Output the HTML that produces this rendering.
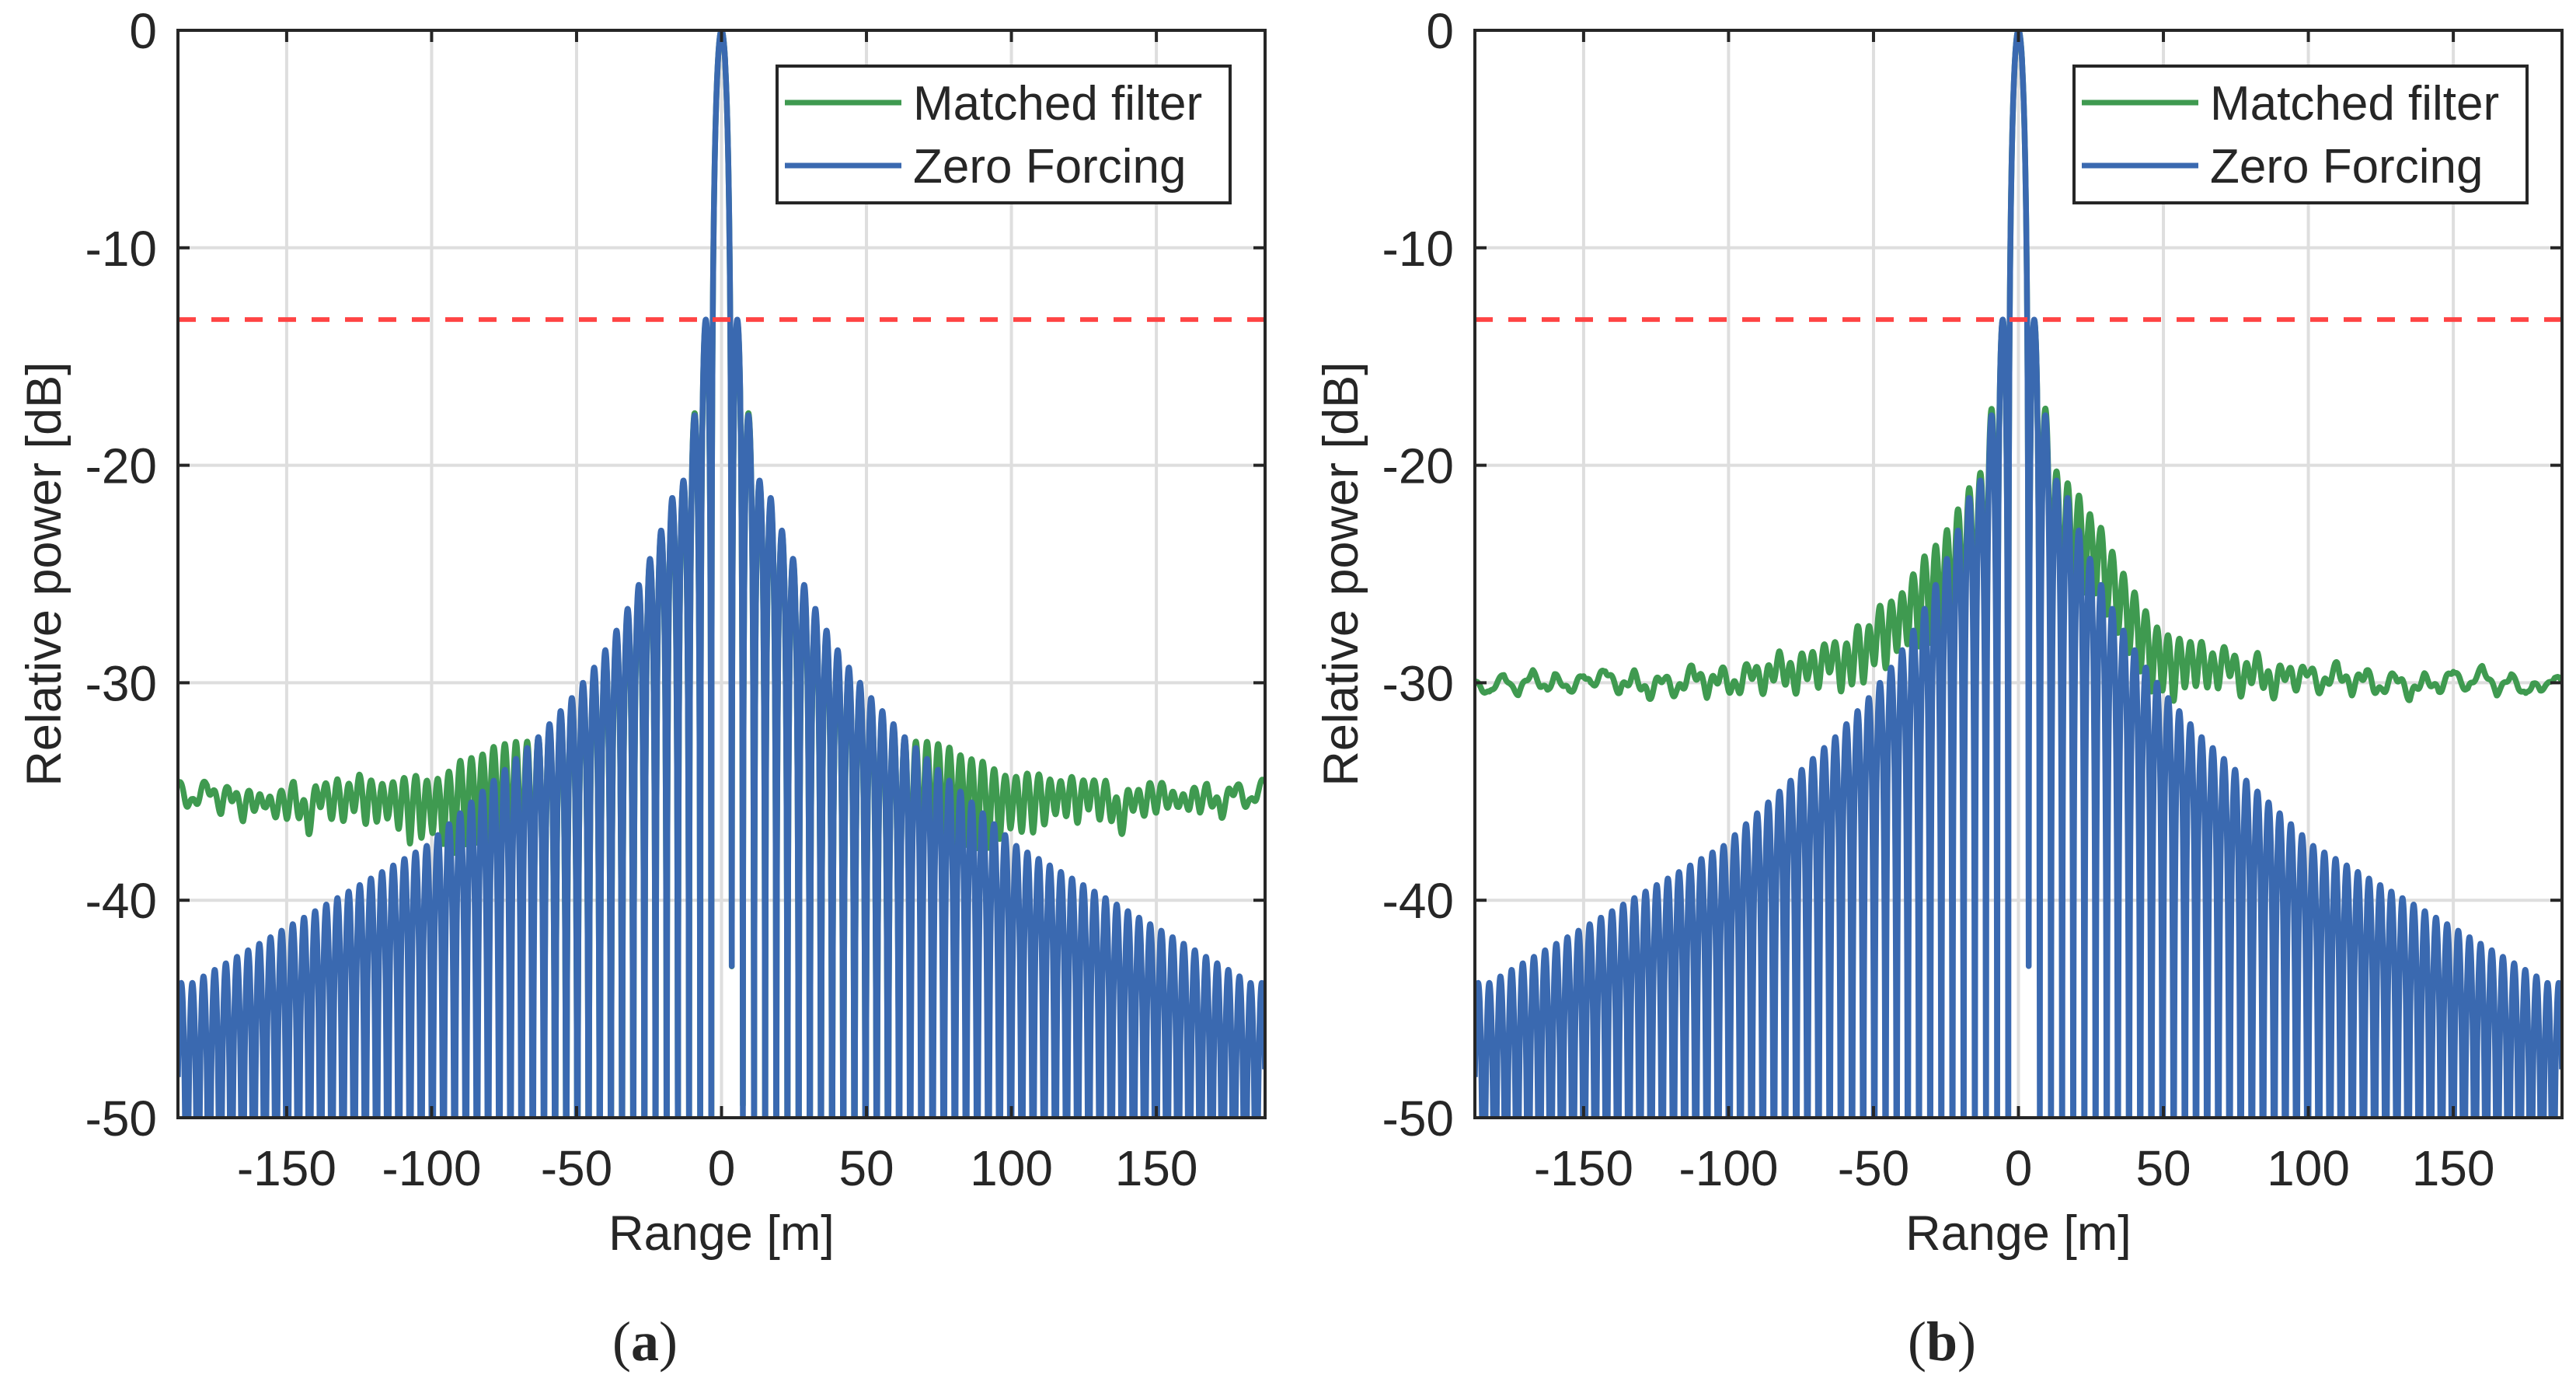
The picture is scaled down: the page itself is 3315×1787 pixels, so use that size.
<!DOCTYPE html>
<html><head><meta charset="utf-8"><style>
html,body{margin:0;padding:0;background:#fff;}
svg{display:block;}
text{font-family:"Liberation Sans",sans-serif;fill:#262626;}
</style></head><body>
<svg id="fig" width="3315" height="1787" viewBox="0 0 3315 1787" xmlns="http://www.w3.org/2000/svg"></svg>
<script>
// ---- data ----
const xTicks = [-150,-100,-50,0,50,100,150];
const yTicks = [0,-10,-20,-30,-40,-50];
const sidelobeLevel = -13.3;
// zero forcing sidelobe peak levels (dB), lobe k = 1..47 on each side
const zfPeaks = [-13.3,-17.7,-20.7,-21.5,-23.0,-24.3,-25.5,-26.6,-27.6,-28.5,-29.3,-30.0,-30.7,-31.3,-31.9,-32.5,-33.0,-33.5,-34.0,-34.5,-35.0,-35.5,-36.0,-36.5,-37.0,-37.5,-37.8,-38.1,-38.4,-38.7,-39.0,-39.3,-39.6,-39.9,-40.2,-40.5,-40.8,-41.1,-41.4,-41.7,-42.0,-42.3,-42.6,-42.9,-43.2,-43.5,-43.8];
// matched filter sidelobe peak levels (dB)
const mfPeaks = [-13.4,-17.6,-20.8,-21.7,-23.1,-24.4,-25.7,-26.8,-27.8,-28.7,-29.5,-30.2,-30.9,-31.5,-32.1,-32.7,-33.2,-33.7,-34.2,-34.7,-35.2,-35.7,-36.2,-36.7,-37.2,-37.7,-38.0,-38.3,-38.6,-38.9,-39.2,-39.5,-39.8,-40.1,-40.4,-40.7,-41.0,-41.3,-41.6,-41.9,-42.2,-42.5,-42.8,-43.1,-43.4,-43.7,-44.0];
// matched filter noise floor, range -187.5..187.5 step 2.5 m
const mfFloorA = [-34.8,-35.6,-36.0,-35.4,-34.9,-35.6,-36.1,-35.2,-35.8,-36.4,-35.6,-36.2,-35.7,-36.5,-35.9,-36.3,-35.5,-36.6,-37.1,-36.0,-35.6,-36.4,-35.8,-36.5,-36.0,-35.7,-36.6,-36.1,-36.8,-36.2,-37.0,-36.4,-37.4,-36.5,-37.6,-36.8,-37.8,-37.2,-38.0,-37.0,-37.6,-37.2,-37.8,-37.4,-38.0,-38.4,-39,-40,-42,-44,-47,-50,
-60,-60,-60,-60,-60,-60,-60,-60,-60,-60,-60,-60,-60,-60,-60,-60,-60,-60,-60,-60,-60,-60,-60,-60,-60,-60,-60,-60,-60,-60,-60,-60,-60,-60,-60,-60,-60,-60,-60,-60,-60,-60,-60,-60,-60,-60,-60,
-50,-47,-44,-42,-40,-39,-38.4,-38.0,-37.6,-37.9,-37.3,-37.8,-37.1,-37.7,-37.0,-37.5,-36.6,-37.2,-36.4,-36.9,-36.2,-36.8,-36.0,-36.6,-35.8,-36.5,-36.1,-35.7,-36.4,-35.9,-36.5,-37.2,-36.3,-35.8,-36.4,-35.6,-36.0,-35.4,-36.1,-35.7,-36.2,-35.5,-36.0,-35.3,-35.9,-36.3,-35.5,-35.0,-35.6,-36.0,-35.2,-34.8];
const mfFloorB = [-30.0,-30.4,-30.6,-30.1,-29.7,-30.3,-30.6,-30.0,-29.6,-30.2,-30.5,-29.8,-30.1,-30.6,-30.2,-29.7,-30.3,-30.0,-29.5,-30.1,-30.6,-30.2,-29.8,-30.4,-30.9,-30.3,-29.9,-30.5,-30.8,-30.2,-29.6,-30.1,-30.7,-30.3,-29.8,-30.4,-30.9,-30.2,-29.7,-30.3,-30.6,-30.0,-29.6,-30.2,-30.7,-30.1,-29.8,-30.4,-30.0,-29.5,-30.2,-30.6,
-30.1,-29.4,-30.4,-29.2,-28.8,-29.6,-28.4,-29.1,-27.9,-28.6,-27.6,-28.3,-27.8,-28.6,-28.0,-28.9,-29.5,-30,-30.5,-31,-31,-31,-31,-31,-31,-31,-31,-30.5,-30,-29,-28,-26.5,-25.8,-26.4,-25.6,-26.8,-27.2,-27.9,-28.5,-29.0,-29.6,-30.2,-30.8,-30.3,-31.0,-30.6,-30.2,
-30.4,-29.9,-30.2,-30.6,-30.0,-29.6,-30.3,-30.8,-30.1,-29.7,-30.4,-30.9,-30.2,-29.8,-30.5,-30.1,-29.6,-30.3,-30.7,-30.0,-29.5,-30.2,-30.6,-30.1,-29.7,-30.4,-30.8,-30.2,-29.8,-30.3,-30.9,-30.4,-29.9,-30.2,-30.6,-30.0,-29.5,-30.1,-30.5,-29.9,-29.4,-30.0,-30.6,-30.2,-29.7,-30.3,-30.7,-30.1,-30.4,-30.2,-29.8,-30.0];
const floorStart = -187.5, floorStep = 2.5;
const mainNull = 3.5, lobeSpacing = 3.85;
const xMin = -187.5, xMax = 187.5, yMin = -50, yMax = 0;

// ---- layout ----
const NS = "http://www.w3.org/2000/svg";
const svg = document.getElementById('fig');
const PW = 1399, PT = 39, PH = 1399;
const panels = [{left:229, floor:mfFloorA, label:'(a)', key:'a'},{left:1898, floor:mfFloorB, label:'(b)', key:'b'}];

function el(tag, attrs, parent){const e=document.createElementNS(NS,tag);for(const k in attrs)e.setAttribute(k,attrs[k]);(parent||svg).appendChild(e);return e;}

function lobeDb(peaks, x){
  const a=Math.abs(x);
  if(a<mainNull){const c=Math.cos(Math.PI/2*a/mainNull);return 20*Math.log10(Math.max(c,1e-4));}
  const u=(a-mainNull)/lobeSpacing;const j=Math.floor(u);const t=u-j;
  const pk=peaks[Math.min(j,peaks.length-1)];
  return pk+20*Math.log10(Math.max(Math.sin(Math.PI*t),1e-4));
}
function floorDb(arr,x){
  const u=(x-floorStart)/floorStep;let i=Math.floor(u);
  if(i<0)return arr[0];if(i>=arr.length-1)return arr[arr.length-1];
  const t=u-i;return arr[i]*(1-t)+arr[i+1]*t;
}

panels.forEach(p=>{
  const L=p.left;
  const sx=x=>L+(x-xMin)/(xMax-xMin)*PW;
  const sy=y=>PT+(yMax-y)/(yMax-yMin)*PH;
  const g=el('g',{});
  
  
  const cp=el('clipPath',{id:'clip'+p.key},g);
  el('rect',{x:L,y:PT,width:PW,height:PH},cp);
  xTicks.forEach(t=>{const l=el('line',{x1:sx(t),x2:sx(t),y1:PT,y2:PT+PH,stroke:'#dedede','stroke-width':4},g);
    });
  yTicks.forEach(t=>{const l=el('line',{x1:L,x2:L+PW,y1:sy(t),y2:sy(t),stroke:'#dedede','stroke-width':4},g);
    });
  let dg='',db='';
  for(let x=xMin;x<=xMax+1e-6;x+=0.08){
    const zf=lobeDb(zfPeaks,x);
    const mf=10*Math.log10(Math.pow(10,lobeDb(mfPeaks,x)/10)+Math.pow(10,floorDb(p.floor,x)/10));
    const X=sx(x).toFixed(1);
    dg+=(dg?'L':'M')+X+','+sy(Math.max(mf,-60)).toFixed(1);
    db+=(db?'L':'M')+X+','+sy(Math.max(zf,-60)).toFixed(1);
  }
  const gp=el('path',{d:dg,fill:'none',stroke:'#3f9a50','stroke-width':7.5,'stroke-linejoin':'round','clip-path':'url(#clip'+p.key+')'},g);
  
  const bp=el('path',{d:db,fill:'none',stroke:'#3a69b0','stroke-width':7.5,'stroke-linejoin':'round','clip-path':'url(#clip'+p.key+')'},g);
  
  const rl=el('line',{x1:L,x2:L+PW,y1:sy(sidelobeLevel),y2:sy(sidelobeLevel),stroke:'#ff4444','stroke-width':6,'stroke-dasharray':'23 20'},g);
  
  xTicks.forEach(t=>{el('line',{x1:sx(t),x2:sx(t),y1:PT,y2:PT+15,stroke:'#262626','stroke-width':4},g);
    el('line',{x1:sx(t),x2:sx(t),y1:PT+PH,y2:PT+PH-15,stroke:'#262626','stroke-width':4},g);
    const tx=el('text',{x:sx(t),y:1525,'font-size':64,'text-anchor':'middle'},g);tx.textContent=String(t);
    });
  yTicks.forEach(t=>{el('line',{x1:L,x2:L+15,y1:sy(t),y2:sy(t),stroke:'#262626','stroke-width':4},g);
    el('line',{x1:L+PW,x2:L+PW-15,y1:sy(t),y2:sy(t),stroke:'#262626','stroke-width':4},g);
    const tx=el('text',{x:L-27,y:sy(t)+23,'font-size':64,'text-anchor':'end'},g);tx.textContent=String(t);
    });
  const box=el('rect',{x:L,y:PT,width:PW,height:PH,fill:'none',stroke:'#262626','stroke-width':4},g);
  
  const lg=el('g',{},g);
  
  const LX=L+771;
  el('rect',{x:LX,y:85,width:583,height:176,fill:'#fff',stroke:'#262626','stroke-width':4},lg);
  el('line',{x1:LX+10,x2:LX+160,y1:132,y2:132,stroke:'#3f9a50','stroke-width':7},lg);
  el('line',{x1:LX+10,x2:LX+160,y1:213,y2:213,stroke:'#3a69b0','stroke-width':7},lg);
  const t1=el('text',{x:LX+175,y:154,'font-size':62,fill:'#000'},lg);t1.textContent='Matched filter';
  
  const t2=el('text',{x:LX+175,y:235,'font-size':62,fill:'#000'},lg);t2.textContent='Zero Forcing';
  
  const xl=el('text',{x:sx(0),y:1608,'font-size':63,'text-anchor':'middle'},g);xl.textContent='Range [m]';
  
  const yl=el('text',{x:0,y:0,'font-size':63,'text-anchor':'middle',transform:'translate('+(L-151)+','+(PT+PH/2)+') rotate(-90)'},g);yl.textContent='Relative power [dB]';
  
  const pl=el('text',{x:L+601,y:1750,'font-size':72,'text-anchor':'middle',style:'font-family:"Liberation Serif",serif'},g);
  pl.innerHTML='(<tspan font-weight="bold">'+p.label.slice(1,2)+'</tspan>)';
  
});
</script>
</body></html>
